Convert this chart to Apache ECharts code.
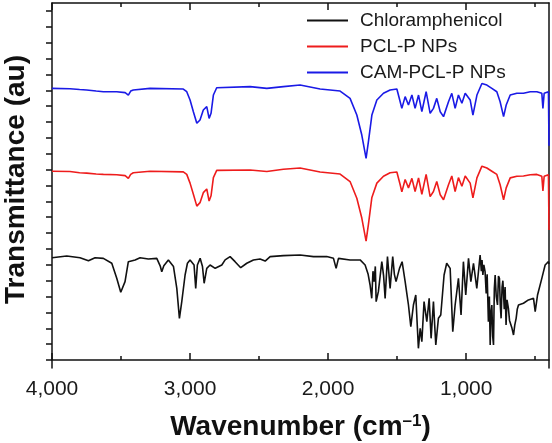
<!DOCTYPE html>
<html><head><meta charset="utf-8">
<script src="https://cdn.jsdelivr.net/npm/echarts@6/dist/echarts.min.js"></script>
<style>html,body{margin:0;padding:0;background:#fff}#c{width:552px;height:443px}</style>
</head><body><div id="c"></div>
<script>
const seriesNames = ['Chloramphenicol', 'PCL-P NPs', 'CAM-PCL-P NPs'];
const seriesColors = ['#111111', '#ee1c1c', '#1a1ae6'];
const xTickLabels = [4000, 3000, 2000, 1000];
const xMajorTicks = [4000, 3000, 2000, 1000];
const xMinorTicks = [3500, 2500, 1500, 500];
const yTicks = [0,1,2,3,4,5,6,7,8,9,10,11,12,13,14,15,16,17,18,19,20,21,22];

const waveBlack = [4000,3893,3797,3736,3688,3628,3567,3531,3502,3471,3447,3398,3362,3302,3241,3215,3205,3190,3157,3120,3096,3077,3060,3036,3019,3000,2971,2959,2947,2927,2910,2898,2879,2855,2818,2770,2746,2710,2674,2633,2589,2541,2493,2456,2420,2324,2203,2106,2010,1961,1942,1925,1841,1768,1732,1710,1696,1684,1675,1667,1658,1652,1636,1611,1598,1587,1570,1551,1532,1520,1508,1483,1464,1442,1430,1418,1401,1382,1365,1346,1333,1321,1305,1285,1268,1254,1237,1228,1220,1201,1184,1160,1141,1116,1097,1080,1056,1037,1020,1003,983,966,947,923,899,890,885,879,872,863,855,848,839,832,826,820,814,808,802,796,790,782,773,766,759,753,747,740,734,730,724,718,711,704,694,686,677,668,657,648,638,630,621,585,549,512,500,483,452,428,404,400];
const valBlack = [6.45,6.56,6.45,6.26,6.45,6.41,6.10,5.15,4.27,4.94,6.20,6.31,6.45,6.37,6.41,5.90,5.57,5.95,6.31,5.89,4.52,2.63,3.68,5.36,6.10,6.31,5.99,4.52,5.99,6.41,5.89,4.84,5.78,5.99,5.78,5.99,6.31,6.52,6.20,5.82,6.10,6.31,6.37,6.24,6.52,6.58,6.62,6.52,6.52,6.41,5.78,6.41,6.31,6.31,5.99,5.40,4.73,3.89,5.60,4.94,5.90,3.68,4.31,6.20,5.30,3.89,6.52,4.52,6.52,5.40,4.94,5.78,6.20,4.94,4.20,3.47,2.11,3.47,4.10,0.74,2.00,1.16,3.68,2.42,3.89,1.37,3.68,2.20,0.95,2.63,2.84,5.36,6.10,5.78,1.79,3.47,5.15,2.84,6.20,4.10,6.41,4.94,6.10,4.52,6.62,5.60,6.30,5.36,6.00,5.57,4.20,5.40,2.42,4.00,0.95,3.00,3.47,1.50,0.95,4.50,5.36,4.00,3.47,5.30,5.15,3.50,2.63,4.60,5.00,4.94,3.20,4.60,2.21,3.80,3.26,2.50,2.42,2.00,1.58,2.20,2.63,3.20,3.47,3.58,3.79,3.89,3.05,4.10,5.15,5.99,6.20,6.05];

const waveRed = [4000,3870,3800,3749,3680,3628,3531,3470,3447,3430,3411,3290,3049,3024,3000,2976,2951,2928,2904,2879,2862,2848,2831,2807,2565,2444,2324,2203,2058,1913,1841,1792,1756,1725,1708,1683,1647,1599,1551,1502,1478,1466,1442,1418,1393,1370,1345,1321,1290,1261,1237,1213,1188,1164,1128,1104,1080,1056,1031,1007,971,951,922,886,850,814,778,754,729,710,681,633,585,536,488,452,444,435,404,401,400];
const valRed = [11.90,11.88,11.80,11.78,11.72,11.70,11.68,11.62,11.45,11.70,11.80,11.90,11.86,11.70,11.15,10.45,9.70,9.92,10.55,10.78,10.02,10.35,11.50,11.95,11.98,11.88,12.02,12.10,11.85,11.72,11.25,10.20,8.95,7.50,8.55,10.25,11.15,11.58,11.80,11.85,11.05,10.60,11.38,10.85,11.45,10.62,11.48,10.45,11.70,10.30,10.62,11.25,10.42,10.10,11.05,11.60,10.62,11.50,10.95,11.60,11.15,10.22,11.48,12.22,12.10,11.90,11.70,11.05,10.10,10.85,11.48,11.58,11.60,11.68,11.70,11.58,10.65,11.58,11.68,11.65,8.20];

const waveBlue = [4000,3870,3800,3749,3680,3628,3531,3470,3447,3430,3411,3290,3049,3024,3000,2976,2951,2928,2904,2879,2862,2848,2831,2807,2565,2444,2324,2203,2058,1913,1841,1792,1756,1725,1708,1683,1647,1599,1551,1502,1478,1466,1442,1418,1393,1370,1345,1321,1290,1261,1237,1213,1188,1164,1128,1104,1080,1056,1031,1007,971,951,922,886,850,814,778,754,729,710,681,633,585,536,488,452,444,435,404,401,400];
const valBlue = [17.12,17.10,17.05,17.02,16.95,16.91,16.91,16.85,16.70,16.95,17.02,17.12,17.08,16.91,16.39,15.65,14.92,15.13,15.76,15.97,15.23,15.55,16.70,17.16,17.23,17.12,17.23,17.33,17.08,16.95,16.49,15.44,14.18,12.71,13.76,15.44,16.39,16.81,17.02,17.08,16.28,15.86,16.60,16.07,16.70,15.86,16.70,15.65,16.91,15.55,15.86,16.49,15.65,15.34,16.28,16.81,15.86,16.70,16.18,16.81,16.39,15.44,16.70,17.43,17.33,17.12,16.91,16.28,15.34,16.07,16.70,16.81,16.81,16.91,16.91,16.81,15.86,16.81,16.91,16.90,13.50];

const zip = (w, v) => w.map((x, i) => [x, v[i]]);
const FONT = 'Liberation Sans, Arial, Helvetica, sans-serif';
const chart = echarts.init(document.getElementById('c'), null, {renderer: 'canvas'});

const baseX = {type: 'value', min: 400, max: 4000, inverse: true, splitLine: {show: false}};
const option = {
  backgroundColor: '#ffffff',
  animation: false,
  grid: {left: 52, right: 3, top: 3, bottom: 75, containLabel: false, outerBoundsMode: 'none'},
  legend: {
    orient: 'vertical', left: 302, top: 6, icon: 'rect', itemWidth: 41, itemHeight: 2, itemGap: 7,
    textStyle: {fontFamily: FONT, fontSize: 19, color: '#1a1a1a', padding: [0, 0, 0, 7]},
    data: seriesNames
  },
  xAxis: [
    Object.assign({}, baseX, {
      position: 'bottom',
      axisLine: {show: true, lineStyle: {color: '#111', width: 1.5}},
      axisTick: {show: true, inside: true, length: 7, customValues: xMajorTicks, lineStyle: {color: '#111', width: 1.5}},
      axisLabel: {show: true, customValues: xTickLabels, formatter: v => Number(v).toLocaleString('en-US'),
        fontFamily: FONT, fontSize: 21, color: '#1a1a1a', margin: 11},
      name: '{a|Wavenumber (cm}{s|–1}{a|)}', nameLocation: 'middle', nameGap: 45,
      nameTextStyle: {rich: {
        a: {fontFamily: FONT, fontSize: 28, fontWeight: 'bold', color: '#111'},
        s: {fontFamily: FONT, fontSize: 17, fontWeight: 'bold', color: '#111', verticalAlign: 'top', padding: [0, 0, 12, 0]}
      }}
    }),
    Object.assign({}, baseX, {
      position: 'bottom', axisLine: {show: false},
      axisTick: {show: true, inside: true, length: 4, customValues: xMinorTicks, lineStyle: {color: '#111', width: 1.5}},
      axisLabel: {show: false}
    }),
    Object.assign({}, baseX, {
      position: 'top', axisLine: {show: true, lineStyle: {color: '#111', width: 1.5}},
      axisTick: {show: true, inside: true, length: 7, customValues: xMajorTicks, lineStyle: {color: '#111', width: 1.5}},
      axisLabel: {show: false}
    }),
    Object.assign({}, baseX, {
      position: 'top', axisLine: {show: false},
      axisTick: {show: true, inside: true, length: 4, customValues: xMinorTicks, lineStyle: {color: '#111', width: 1.5}},
      axisLabel: {show: false}
    })
  ],
  yAxis: [
    {
      type: 'value', min: -0.5, max: 22.5, position: 'left',
      axisLine: {show: true, lineStyle: {color: '#111', width: 1.5}},
      axisTick: {show: true, inside: false, length: 6, customValues: yTicks, lineStyle: {color: '#111', width: 1.5}},
      axisLabel: {show: false}, splitLine: {show: false},
      name: 'Transmittance (au)', nameLocation: 'middle', nameGap: 22, nameRotate: 90,
      nameTextStyle: {fontFamily: FONT, fontSize: 28, fontWeight: 'bold', color: '#111', padding: [0, 0, 0, 12]}
    },
    {
      type: 'value', min: -0.5, max: 22.5, position: 'right',
      axisLine: {show: true, lineStyle: {color: '#111', width: 1.5}},
      axisTick: {show: false}, axisLabel: {show: false}, splitLine: {show: false}
    }
  ],
  series: [
    {name: seriesNames[0], type: 'line', data: zip(waveBlack, valBlack)},
    {name: seriesNames[1], type: 'line', data: zip(waveRed, valRed)},
    {name: seriesNames[2], type: 'line', data: zip(waveBlue, valBlue)}
  ].map((s, i) => Object.assign(s, {
    xAxisIndex: 0, yAxisIndex: 0, symbol: 'none', showSymbol: false,
    color: seriesColors[i], lineStyle: {color: seriesColors[i], width: 1.6}
  }))
};
chart.setOption(option);
</script>
</body></html>
